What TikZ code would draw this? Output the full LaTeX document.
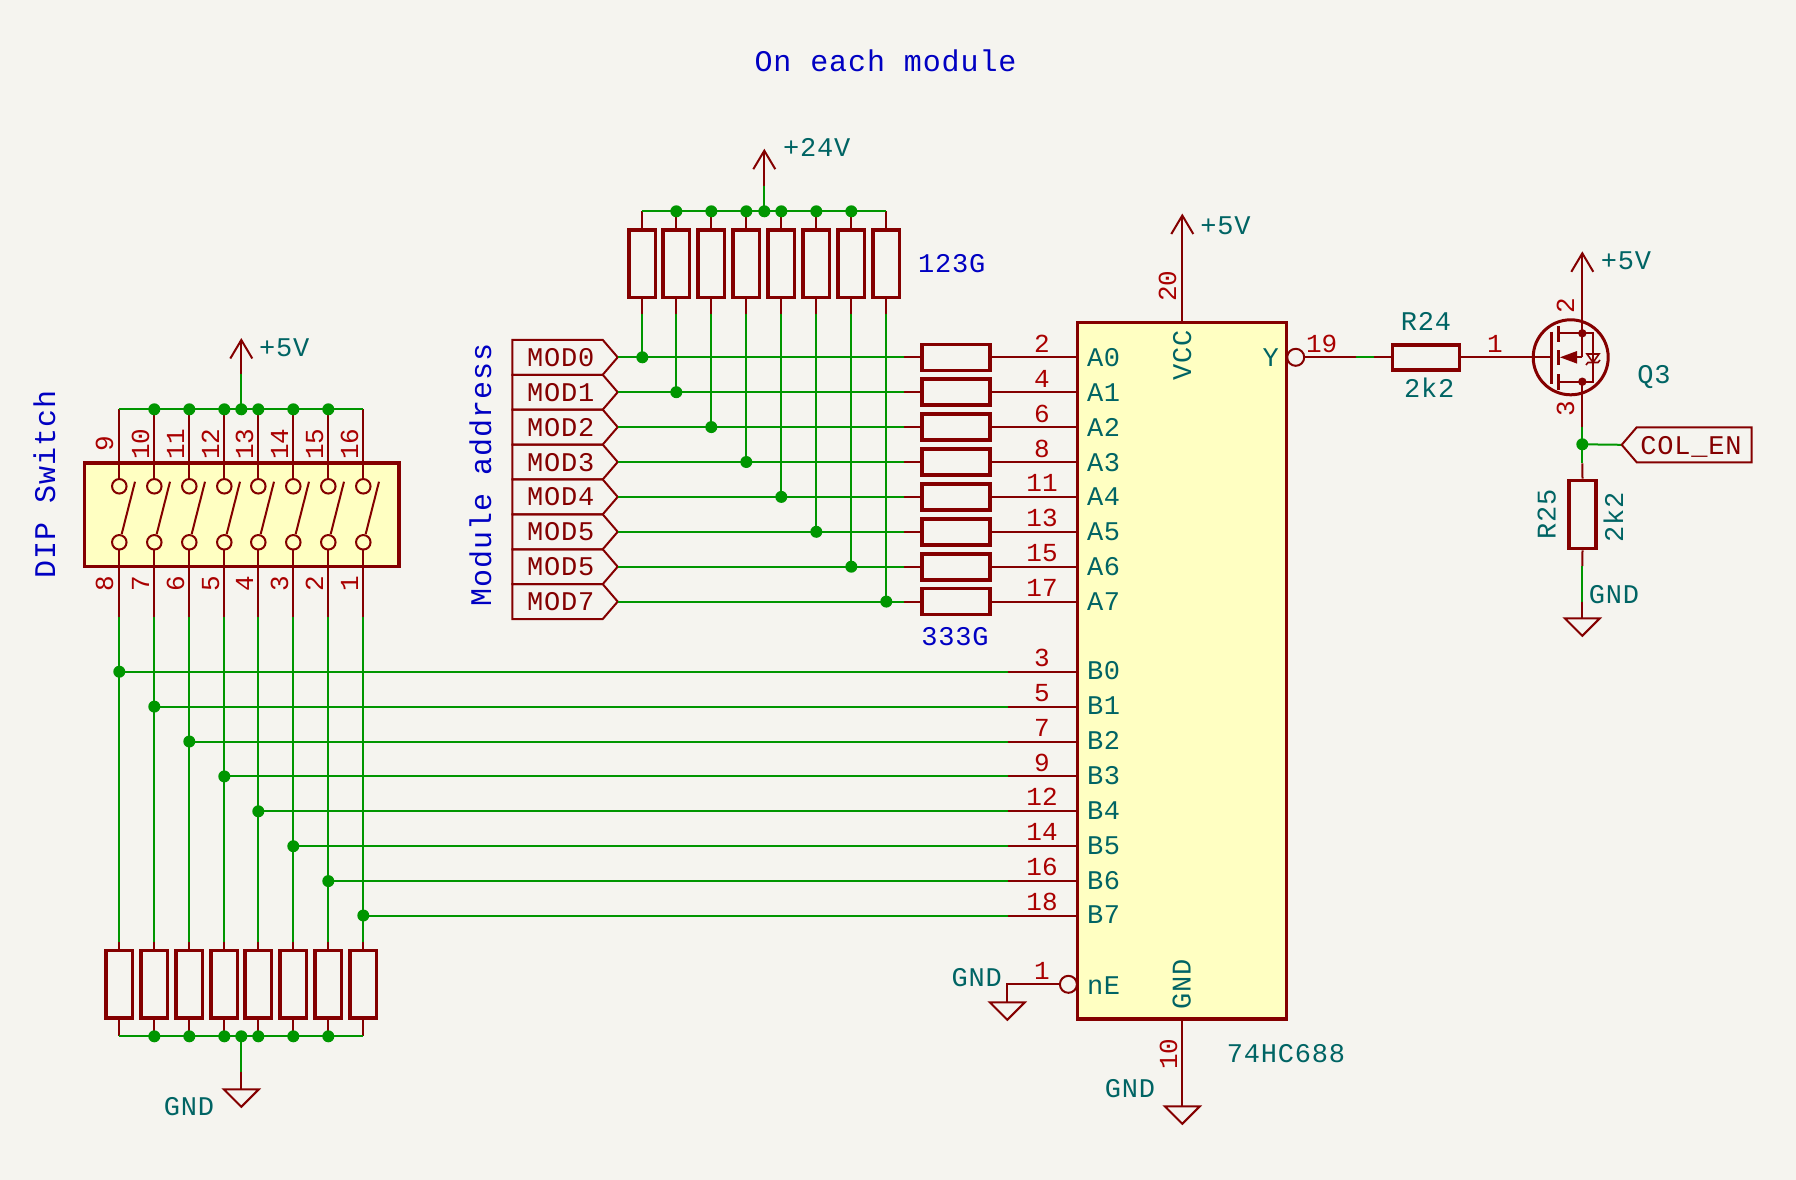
\documentclass[tikz,border=0pt]{standalone}
\usepackage{fontspec}
\newfontfamily\kfont[LetterSpace=3]{Liberation Mono}
\newfontfamily\pfont{Liberation Mono}
\definecolor{bg}{HTML}{F5F4EF}
\definecolor{body}{HTML}{840000}
\definecolor{bodyfill}{HTML}{FFFFC2}
\definecolor{wirec}{HTML}{009600}
\definecolor{teal}{HTML}{006464}
\definecolor{pinnum}{HTML}{A90000}
\definecolor{note}{HTML}{0000C2}
\tikzset{
  x=1pt,y=-1pt,
  ptxt/.style={inner sep=0pt,outer sep=0pt,text height=18pt,text depth=0pt,align=center},
  val/.style={ptxt,text=teal,font=\kfont\fontsize{27}{27}\selectfont},
  pnum/.style={ptxt,text=pinnum,font=\pfont\fontsize{26}{26}\selectfont},
  lab/.style={ptxt,text=body,font=\kfont\fontsize{27}{27}\selectfont},
  blue/.style={ptxt,text=note,font=\kfont\fontsize{27}{27}\selectfont},
  bluebig/.style={ptxt,text=note,font=\kfont\fontsize{30}{30}\selectfont},
  pinl/.style={draw=body,line width=2pt},
  wire/.style={draw=wirec,line width=2pt},
  thick box/.style={draw=body,line width=3.6pt,fill=none},
  jn/.style={circle,fill=wirec,draw=none,minimum size=12pt,inner sep=0pt},
  bub/.style={circle,draw=body,line width=2pt,minimum size=17pt,inner sep=0pt},
  sw/.style={circle,draw=body,line width=2pt,fill=bodyfill,minimum size=14.5pt,inner sep=0pt},
  tri/.style={draw=body,line width=2pt,line join=miter},
}
\newcommand{\pwrarrow}[1]{%
  \draw[pinl] ([xshift=-11pt,yshift=-18.5pt]#1) -- (#1) -- ([xshift=11pt,yshift=-18.5pt]#1);}
\newcommand{\gndsym}[1]{%
  \draw[tri] ([xshift=-17.5pt]#1) -- ([xshift=17.5pt]#1) -- ([yshift=-17.5pt]#1) -- cycle;}
\begin{document}
\begin{tikzpicture}
\fill[bg] (0,0) rectangle (1796,1180);
\useasboundingbox (0,0) rectangle (1796,1180);

% title and notes
\node[bluebig] (title) at (885.5,63) {On each module};
\node[bluebig,rotate=90] (dipnote) at (46,484.5) {DIP Switch};
\node[bluebig,rotate=90] (modnote) at (482,475) {Module address};
\node[blue] (r123) at (951.8,263.4) {123G};
\node[blue] (r333) at (955,636) {333G};

% ---------- 74HC688 body
\node[draw=body,line width=3.6pt,fill=bodyfill,minimum width=209pt,minimum height=696.5pt,inner sep=0pt] (ic) at (1182,670.7) {};
\coordinate (vcctop) at (1182.3,215.5);
\coordinate (vccic) at (1182.3,322.3);
\coordinate (gndic) at (1182.3,1019);
\coordinate (gndtop) at (1182.3,1106.3);
\draw[pinl] (vcctop) -- (vccic);
\pwrarrow{vcctop}
\draw[pinl] (gndic) -- (gndtop);
\gndsym{gndtop}
\node[val] (vccv) at (1225.5,225.6) {+5V};
\node[pnum,rotate=90] (p20) at (1167,286) {20};
\node[val,rotate=90] (vccn) at (1182,355) {VCC};
\node[val,rotate=90] (gndn) at (1181.7,984.3) {GND};
\node[pnum,rotate=90] (p10) at (1168,1054) {10};
\node[val] (g10) at (1130,1088) {GND};
\node[val] (icname) at (1286,1053.3) {74HC688};

% ---------- A row and pull-ups
\coordinate (bust) at (642.3,211.3);
\coordinate (bustr) at (886.3,211.3);
\foreach \i/\x/\y/\m/\p [count=\n] in {
  0/642.3/357.3/MOD0/2,
  1/676.3/392.2/MOD1/4,
  2/711.3/427.1/MOD2/6,
  3/746.3/462/MOD3/8,
  4/781.3/496.9/MOD4/11,
  5/816.3/531.8/MOD5/13,
  6/851.3/566.7/MOD5/15,
  7/886.3/601.6/MOD7/17}{
  % flag
  \coordinate (tip\i) at (617.7,\y);
  \coordinate (w\i) at (904,\y);
  \coordinate (rl\i) at (921,\y);
  \coordinate (rr\i) at (991,\y);
  \coordinate (a\i) at (1077,\y);
  \draw[pinl,line join=miter] (512.3,\y-17.45) -- (602.7,\y-17.45) -- (tip\i) -- (602.7,\y+17.45) -- (512.3,\y+17.45) -- cycle;
  \node[lab] (mod\i) at (560.7,\y) {\m};
  \draw[wire] (tip\i) -- (w\i);
  \draw[pinl] (w\i) -- (rl\i);
  \draw[pinl] (rr\i) -- (a\i);
  \node[thick box,minimum width=68pt,minimum height=26pt,inner sep=0pt] (rh\i) at (956,\y) {};
  \node[pnum] (pa\i) at (1042,\y-14) {\p};
  \node[val,anchor=west] (na\i) at (1087,\y) {A\i};
  % pull-up
  \coordinate (pt\i) at (\x,211.3);
  \coordinate (pr\i) at (\x,228.3);
  \coordinate (ps\i) at (\x,299);
  \coordinate (pg\i) at (\x,314.3);
  \draw[pinl] (pt\i) -- (pr\i);
  \draw[pinl] (ps\i) -- (pg\i);
  \node[thick box,minimum width=26.5pt,minimum height=67.5pt,inner sep=0pt] (rv\i) at (\x,263.6) {};
  \draw[wire] (pg\i) -- (\x,\y);
  \node[jn] (ja\i) at (\x,\y) {};
}
\draw[wire] (bust) -- (bustr);
\foreach \i in {1,2,3,4,5,6}{\node[jn] (jt\i) at (pt\i) {};}
\coordinate (p24) at (764.3,150.7);
\coordinate (p24a) at (764.3,185.7);
\coordinate (p24b) at (764.3,211.3);
\draw[pinl] (p24) -- (p24a);
\pwrarrow{p24}
\draw[wire] (p24a) -- (p24b);
\node[jn] (j24) at (p24b) {};
\node[val] (v24) at (816.7,148) {+24V};

% ---------- DIP switch
\node[draw=body,line width=3.6pt,fill=bodyfill,minimum width=314.4pt,minimum height=103.6pt,inner sep=0pt] (dip) at (241.5,514.5) {};
\coordinate (dl) at (119.3,409.3);
\coordinate (dr) at (363.3,409.3);
\foreach \i/\x/\by/\lt/\lb/\tx/\bx in {
  0/119.3/671.7/9/8/104/104,
  1/154.3/706.6/10/7/140/140,
  2/189.3/741.5/11/6/175/175,
  3/224.3/776.4/12/5/210/210,
  4/258.3/811.3/13/4/244/244,
  5/293.3/846.2/14/3/279/279,
  6/328.3/881.1/15/2/314/314,
  7/363.3/915.5/16/1/349/349}{
  \coordinate (dt\i) at (\x,409.3);
  \coordinate (sa\i) at (\x,486.3);
  \coordinate (sb\i) at (\x,542.3);
  \coordinate (dg\i) at (\x,617.3);
  \coordinate (rt\i) at (\x,942);
  \coordinate (rb\i) at (\x,1036.3);
  \coordinate (bw\i) at (1008.3,\by);
  \coordinate (be\i) at (1077,\by);
  \draw[pinl] (dt\i) -- (sa\i);
  \draw[pinl] (sb\i) -- (dg\i);
  \draw[wire] (dg\i) -- (rt\i);
  \draw[pinl] (rt\i) -- (rb\i);
  \node[thick box,fill=bg,minimum width=26.5pt,minimum height=67.5pt,inner sep=0pt] (rd\i) at (\x,984.3) {};
  \node[sw] (ca\i) at (sa\i) {};
  \node[sw] (cb\i) at (sb\i) {};
  \draw[pinl] (\x+15.7,481.7) -- (\x+2.4,534);
  \node[pnum,rotate=90] (ptop\i) at (\tx,444) {\lt};
  \node[pnum,rotate=90] (pbot\i) at (\bx,584) {\lb};
  \draw[wire] (\x,\by) -- (bw\i);
  \draw[pinl] (bw\i) -- (be\i);
  \node[jn] (jb\i) at (\x,\by) {};
  \node[val,anchor=west] (nb\i) at (1087,\by-1) {B\i};
}
\foreach \i/\p/\y in {0/3/671.7,1/5/706.6,2/7/741.5,3/9/776.4,4/12/811.3,5/14/846.2,6/16/881.1,7/18/916}{
  \node[pnum] (pb\i) at (1042,\y-14.4) {\p};
}
\draw[wire] (dl) -- (dr);
\draw[wire] (rb0) -- (rb7);
\foreach \i in {1,2,3,4,5,6}{\node[jn] (jdt\i) at (dt\i) {}; \node[jn] (jdc\i) at (rb\i) {};}
% +5V on DIP
\coordinate (d5) at (241.3,340);
\coordinate (d5a) at (241.3,373.5);
\coordinate (d5b) at (241.3,409.3);
\draw[pinl] (d5) -- (d5a);
\pwrarrow{d5}
\draw[wire] (d5a) -- (d5b);
\node[jn] (jd5) at (d5b) {};
\node[val] (v5d) at (284.3,347.3) {+5V};
% GND under resistors
\coordinate (dg) at (241.3,1036.3);
\coordinate (dga) at (241.3,1071.7);
\coordinate (dgb) at (241.3,1089.3);
\draw[wire] (dg) -- (dga);
\draw[pinl] (dga) -- (dgb);
\gndsym{dgb}
\node[jn] (jdg) at (dg) {};
\node[val] (gd) at (189,1106) {GND};

% ---------- nE
\node[bub] (bne) at (1068.4,984.3) {};
\coordinate (ne1) at (1007.3,984.3);
\coordinate (ne2) at (1007.3,1002.3);
\draw[pinl,line join=miter] (bne.west) -- (ne1) -- (ne2);
\gndsym{ne2}
\node[pnum] (p1ne) at (1042,970.7) {1};
\node[val] (gne) at (976.7,977.3) {GND};
\node[val,anchor=west] (nne) at (1087,985) {nE};

% ---------- Y output, R24
\node[bub] (by) at (1295.7,357.3) {};
\node[val] (ny) at (1270.7,357.3) {Y};
\node[pnum] (p19) at (1321.7,343.3) {19};
\coordinate (y1) at (1356,357.3);
\coordinate (y2) at (1374,357.3);
\coordinate (gate) at (1551,357.3);
\node[thick box,minimum width=67pt,minimum height=25pt,inner sep=0pt] (r24) at (1426,357.3) {};
\draw[pinl] (by.east) -- (y1);
\draw[wire] (y1) -- (y2);
\draw[pinl] (y2) -- (r24.west);
\draw[pinl] (r24.east) -- (gate);
\node[val] (r24n) at (1426,321.7) {R24};
\node[val] (r24v) at (1429.3,388.3) {2k2};
\node[pnum] (p1g) at (1495,343) {1};

% ---------- MOSFET Q3
\node[circle,draw=body,line width=3pt,minimum size=75pt,inner sep=0pt] (q3) at (1570.7,357.3) {};
\draw[body,line width=3.4pt] (1551.7,331.7) -- (1551.7,384);
\draw[body,line width=3.4pt] (1558.3,326) -- (1558.3,341.7);
\draw[body,line width=3.4pt] (1558.3,350) -- (1558.3,365);
\draw[body,line width=3.4pt] (1558.3,374) -- (1558.3,390);
\coordinate (qs) at (1582.3,333.3);
\coordinate (qd) at (1582.3,381.7);
\coordinate (qm) at (1582.3,357.3);
\coordinate (q5) at (1582.3,253.3);
\coordinate (qb) at (1582.3,426.7);
\draw[body,line width=2pt] (1558.3,333.3) -- (1593,333.3) -- (1593,381.7) -- (1558.3,381.7);
\draw[pinl] (q5) -- (qm);
\draw[pinl] (qd) -- (qb);
\draw[pinl] (qm) -- (1576,357.3);
\fill[body] (1560,357.3) -- (1577,351) -- (1577,363.6) -- cycle;
\fill[body] (qs) circle (4.2pt);
\fill[body] (qd) circle (4.2pt);
\draw[body,line width=1.6pt] (1587,354) -- (1599,354) -- (1593,362.5) -- cycle;
\draw[body,line width=1.6pt] (1586,365) -- (1588,362.5) -- (1598,362.5) -- (1600,360);
\pwrarrow{q5}
\node[val] (v5q) at (1626,260) {+5V};
\node[pnum,rotate=90] (p2q) at (1565,305.7) {2};
\node[pnum,rotate=90] (p3q) at (1565,409) {3};
\node[val] (q3n) at (1654,374) {Q3};

% ---------- COL_EN and R25
\coordinate (qc) at (1582.3,444.3);
\coordinate (qe) at (1582.3,463.3);
\coordinate (ct) at (1621.7,444.8);
\draw[wire] (qb) -- (qe);
\draw[wire] (qc) -- (ct);
\node[jn] (jq) at (qc) {};
\draw[pinl,line join=miter] (ct) -- (1636.7,427.3) -- (1751.7,427.3) -- (1751.7,462.3) -- (1636.7,462.3) -- cycle;
\node[lab] (colen) at (1691,445) {COL\_EN};
\node[thick box,minimum width=27pt,minimum height=68pt,inner sep=0pt] (r25) at (1582.5,514.5) {};
\coordinate (r25g) at (1582.3,566);
\coordinate (r25h) at (1582.3,601.7);
\coordinate (r25t) at (1582.3,618.3);
\draw[pinl] (qe) -- (r25.north);
\draw[pinl] (r25.south) -- (r25g);
\draw[wire] (r25g) -- (r25h);
\draw[pinl] (r25h) -- (r25t);
\gndsym{r25t}
\node[val,rotate=90] (r25n) at (1546.7,514) {R25};
\node[val,rotate=90] (r25v) at (1614,517.7) {2k2};
\node[val] (g25) at (1614,594.3) {GND};
\end{tikzpicture}
\end{document}
